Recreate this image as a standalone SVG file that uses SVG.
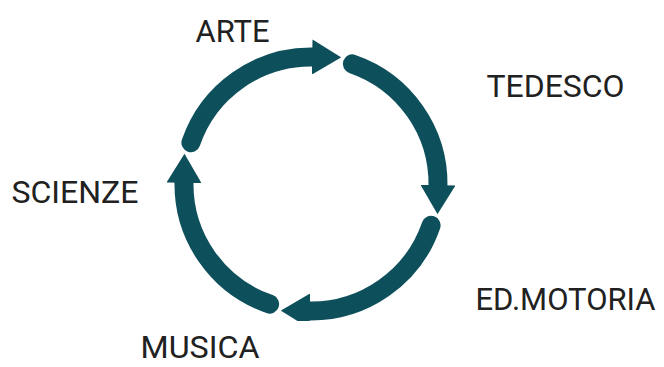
<svg xmlns="http://www.w3.org/2000/svg" width="664" height="367" viewBox="0 0 664 367">
  <style>
    .lbl { font-family: Roboto, "Liberation Sans", sans-serif; font-size: 32px; fill: #212121; }
    .arc { fill: none; stroke: #0e4f5c; stroke-width: 19; stroke-linecap: round; }
  </style>
  <defs>
    <marker id="head" viewBox="0 0 29 35" markerUnits="userSpaceOnUse" markerWidth="29" markerHeight="35" refX="1" refY="17.5" orient="auto">
      <path d="M0,0 L29,17.5 L0,35 Z" fill="#0e4f5c"/>
    </marker>
    <clipPath id="crop">
      <rect x="0" y="0" width="664" height="321"/>
    </clipPath>
  </defs>
  <rect width="664" height="367" fill="#ffffff"/>
  <g id="connectors" clip-path="url(#crop)">
    <path class="arc" d="M190.9,142.7 A127,127 0 0 1 313.2,57.0" marker-end="url(#head)"/>
    <path class="arc" d="M352.3,63.9 A127,127 0 0 1 438.0,186.2" marker-end="url(#head)"/>
    <path class="arc" d="M431.1,225.3 A127,127 0 0 1 308.8,311.0" marker-end="url(#head)"/>
    <path class="arc" d="M269.6,304.1 A127,127 0 0 1 184.0,181.8" marker-end="url(#head)"/>
  </g>
  <g id="arte"><text class="lbl" x="195.5" y="41.5" textLength="74" lengthAdjust="spacingAndGlyphs">ARTE</text></g>
  <g id="tedesco"><text class="lbl" x="486.5" y="96.5" textLength="138" lengthAdjust="spacingAndGlyphs">TEDESCO</text></g>
  <g id="edmotoria"><text class="lbl" x="475.5" y="310" textLength="180" lengthAdjust="spacingAndGlyphs">ED.MOTORIA</text></g>
  <g id="musica"><text class="lbl" x="140.5" y="358" textLength="119" lengthAdjust="spacingAndGlyphs">MUSICA</text></g>
  <g id="scienze"><text class="lbl" x="11.5" y="203" textLength="127" lengthAdjust="spacingAndGlyphs">SCIENZE</text></g>
</svg>
